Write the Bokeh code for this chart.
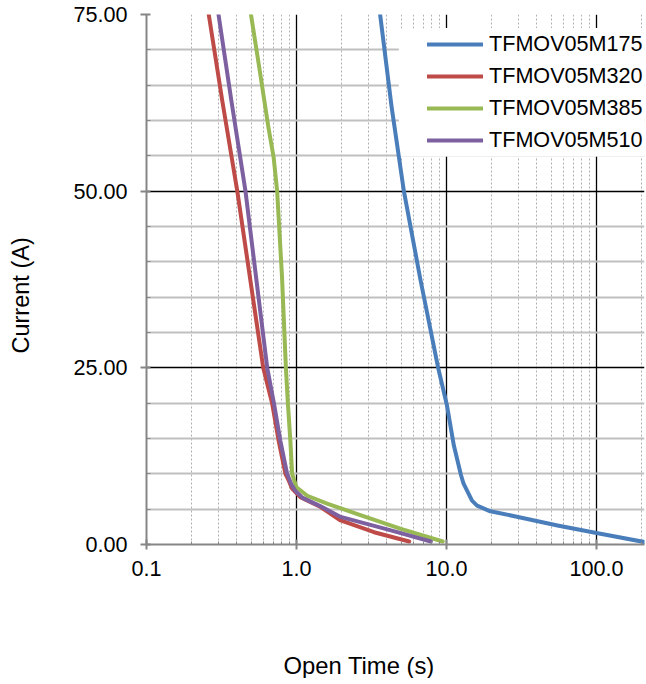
from bokeh.plotting import figure
from bokeh.models import (FixedTicker, NumeralTickFormatter, Legend, LegendItem,
                          BoxAnnotation, Range1d, Title)
from bokeh.embed import file_html
from bokeh.resources import INLINE

# ---- data ----
t175 = [3.61, 4.3, 5.2, 6.7, 8.8, 10.07, 11.2, 12.5, 13.0, 14.8, 16.0, 19.6, 30.0, 55.0, 102.0, 215.0]
i175 = [75.0, 62.0, 50.0, 37.5, 25.0, 19.7, 14.0, 9.8, 8.6, 6.2, 5.5, 4.7, 3.9, 2.7, 1.6, 0.3]

t320 = [0.26, 0.32, 0.403, 0.6, 0.688, 0.76, 0.844, 0.89, 0.935, 1.06, 1.45, 1.97, 3.29, 5.64]
i320 = [75.0, 62.8, 50.0, 25.0, 20.0, 14.7, 10.0, 9.0, 7.9, 6.7, 5.3, 3.4, 1.74, 0.42]

t385 = [0.497, 0.56, 0.65, 0.704, 0.743, 0.80, 0.85, 0.876, 0.91, 0.935, 1.0, 1.18, 1.6, 2.55, 4.97, 9.44]
i385 = [75.0, 68.0, 59.0, 54.8, 50.0, 38.0, 25.0, 20.0, 14.7, 10.0, 8.1, 6.9, 5.8, 4.3, 2.2, 0.42]

t510 = [0.302, 0.368, 0.457, 0.638, 0.707, 0.78, 0.866, 0.92, 0.98, 1.1, 1.45, 1.97, 4.26, 7.87]
i510 = [75.0, 62.8, 50.0, 25.0, 20.0, 14.7, 10.0, 8.6, 7.6, 6.6, 5.4, 3.9, 2.0, 0.42]

names = ["TFMOV05M175", "TFMOV05M320", "TFMOV05M385", "TFMOV05M510"]
colors = ["#4a7ebb", "#be4b48", "#98b954", "#7d60a0"]

x_major = [0.1, 1, 10, 100]
x_labels = {0.1: "0.1", 1: "1.0", 10: "10.0", 100: "100.0"}
x_minor = [m * d for d in (0.1, 1, 10, 100) for m in range(2, 10)]
y_major = [0, 25, 50, 75]
y_minor = [v for v in range(5, 75, 5) if v % 25 != 0]

x_title = "Open Time (s)"
y_title = "Current (A)"

FONT = "Liberation Sans"
XMAX = 209.0

p = figure(x_axis_type="log", x_range=Range1d(0.1, XMAX), y_range=Range1d(0, 75),
           frame_width=498, frame_height=530,
           min_border_left=146, min_border_right=2, min_border_top=14, min_border_bottom=120,
           output_backend="svg", toolbar_location=None, background_fill_color="white",
           border_fill_color="white")
p.outline_line_color = None

# axes
p.xaxis.ticker = FixedTicker(ticks=x_major, minor_ticks=x_minor)
p.xaxis.major_label_overrides = x_labels
p.yaxis.ticker = FixedTicker(ticks=y_major, minor_ticks=y_minor)
p.yaxis.formatter = NumeralTickFormatter(format="0.00")

for ax in (p.xaxis[0], p.yaxis[0]):
    ax.axis_line_color = "#868686"
    ax.axis_line_width = 2
    ax.major_tick_line_color = "#868686"
    ax.major_tick_line_width = 2
    ax.minor_tick_line_color = "#868686"
    ax.minor_tick_line_width = 1
    ax.major_label_text_font = FONT
    ax.major_label_text_font_size = "21.6px"
    ax.major_label_text_color = "black"

p.xaxis.major_tick_in = 5
p.xaxis.major_tick_out = 5
p.xaxis.minor_tick_in = 3
p.xaxis.minor_tick_out = 0
p.xaxis.major_label_standoff = 11

p.yaxis.major_tick_in = 4
p.yaxis.major_tick_out = 6
p.yaxis.minor_tick_in = 4
p.yaxis.minor_tick_out = 0
p.yaxis.major_label_standoff = 13

# spacers between the axes and their titles, then the titles (off-centre like the reference)
p.add_layout(Title(text=" ", text_font_size="1px", standoff=68), "below")
p.add_layout(Title(text=x_title, align="left", offset=137, standoff=0,
                   text_font=FONT, text_font_size="23.8px", text_font_style="normal",
                   text_color="black"), "below")
p.add_layout(Title(text=" ", text_font_size="1px", standoff=34), "left")
p.add_layout(Title(text=y_title, align="left", offset=191, standoff=0,
                   text_font=FONT, text_font_size="23.5px", text_font_style="normal",
                   text_color="black"), "left")

# grids
p.xgrid.grid_line_color = "black"
p.xgrid.grid_line_width = 1.3
p.xgrid.minor_grid_line_color = "#b0b0b0"
p.xgrid.minor_grid_line_width = 1
p.xgrid.minor_grid_line_dash = "2 2"
p.ygrid.grid_line_color = "black"
p.ygrid.grid_line_width = 1.3
p.ygrid.minor_grid_line_color = "#c0c0c0"
p.ygrid.minor_grid_line_width = 2

# white box behind the legend
bg = BoxAnnotation(left=4.81, right=XMAX, top=73.0, bottom=54.9,
                   fill_color="white", fill_alpha=1.0, line_color=None, level="underlay")
p.add_layout(bg)

series = [(t175, i175), (t320, i320), (t385, i385), (t510, i510)]
items = []
for (tx, iy), name, col in zip(series, names, colors):
    r = p.line(tx, iy, line_color=col, line_width=4, line_join="round", line_cap="round")
    items.append(LegendItem(label=name, renderers=[r]))

legend = Legend(items=items, location=(281, 388), orientation="vertical",
                padding=0, margin=0, spacing=0, glyph_width=56, glyph_height=32,
                label_height=32, label_standoff=6, label_text_font=FONT,
                label_text_font_size="21.6px", label_text_color="black",
                background_fill_color="white", background_fill_alpha=1.0,
                border_line_color=None)
p.add_layout(legend)

open("out.html", "w").write(file_html(p, INLINE))
